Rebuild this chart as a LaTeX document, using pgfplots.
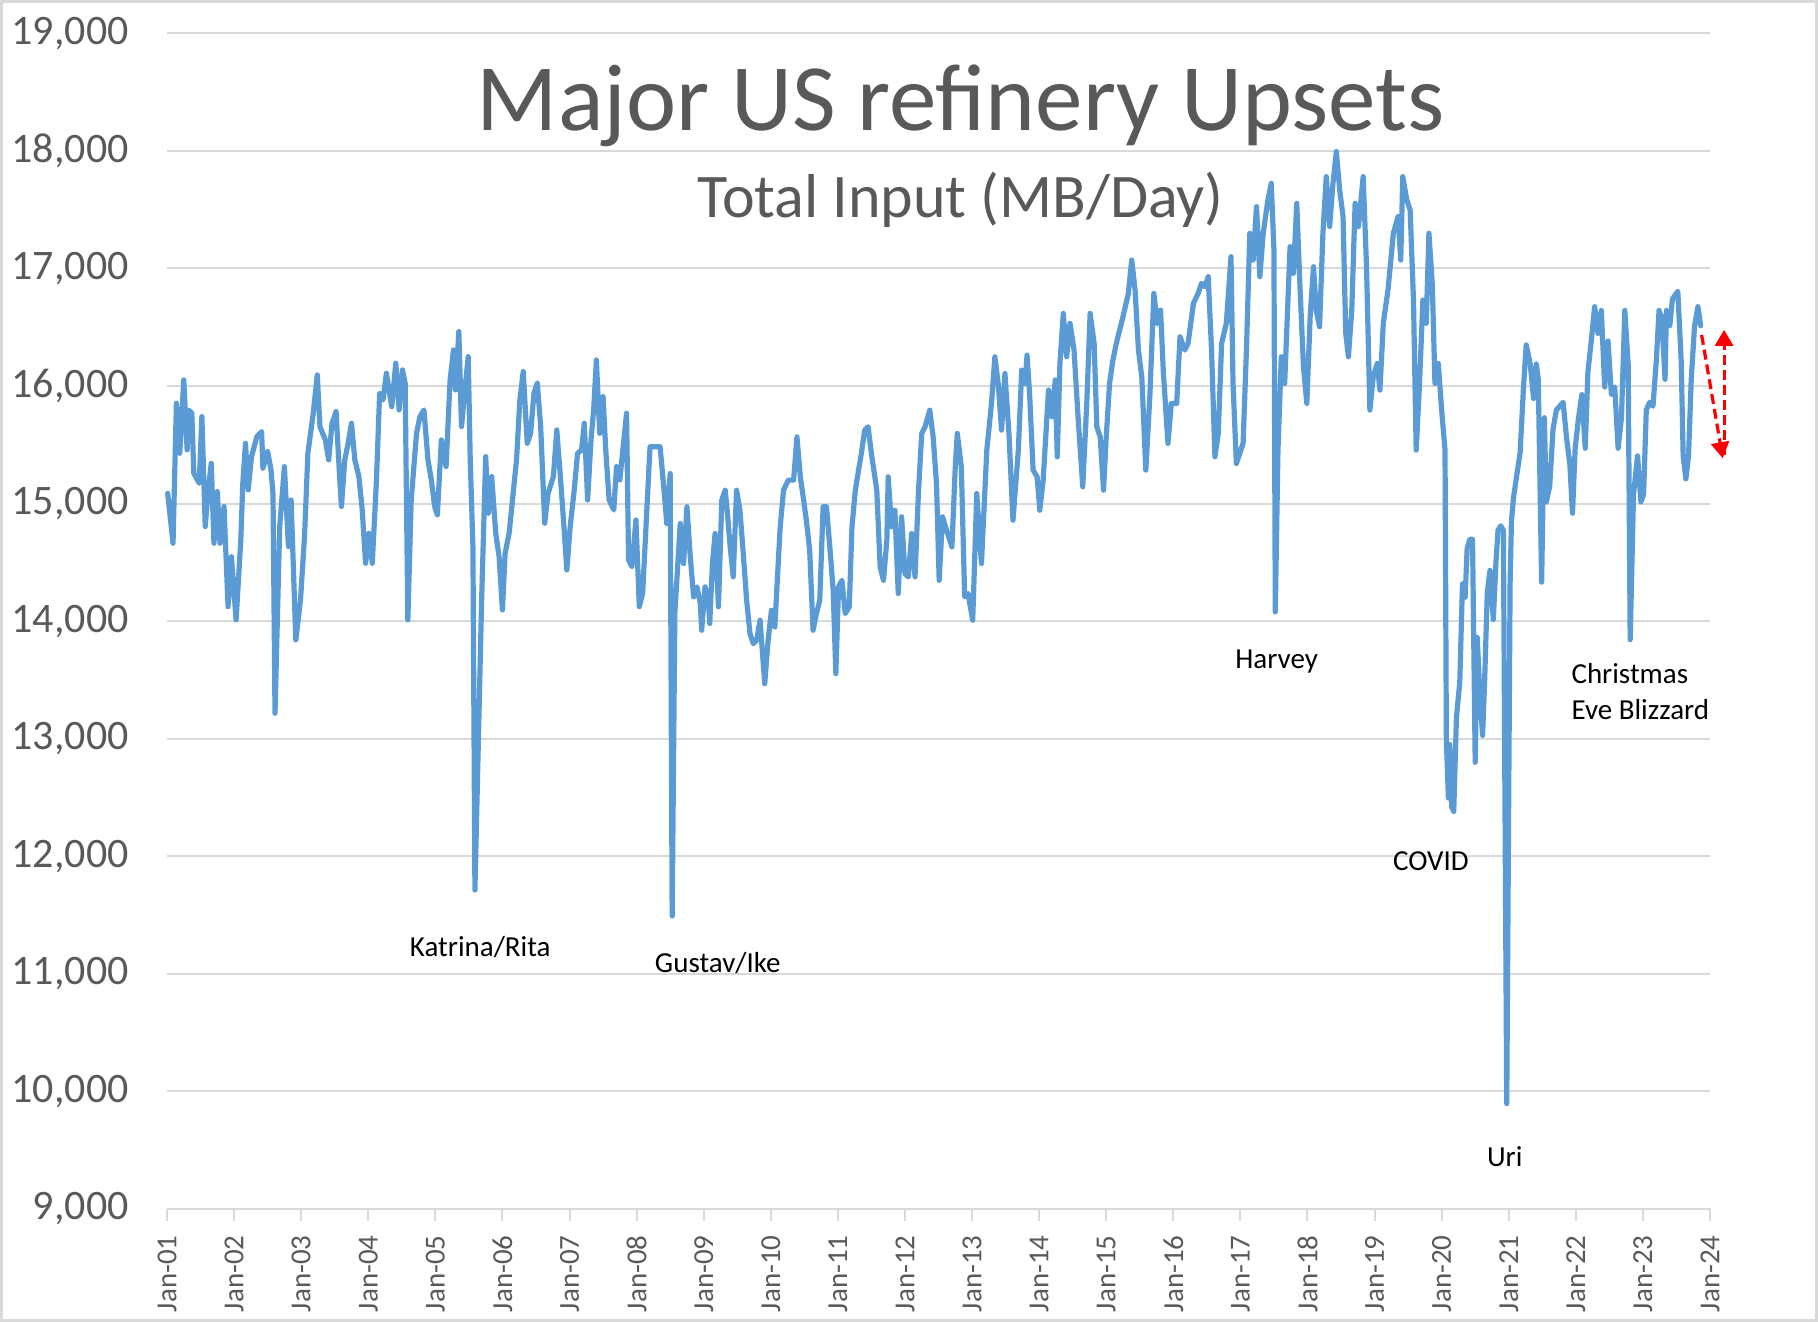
\documentclass[border=0pt]{standalone}
\usepackage{fontspec}
\setmainfont{Carlito}
\usepackage{pgfplots}
\pgfplotsset{compat=1.18}
\usetikzlibrary{arrows.meta}
\definecolor{lineblue}{HTML}{5B9BD5}
\definecolor{txtgray}{HTML}{595959}
\definecolor{gridgray}{HTML}{D9D9D9}
\begin{document}
\begin{tikzpicture}
\useasboundingbox (-83.5pt,-56.5pt) rectangle (825.5pt,604.5pt);
\draw[gridgray, line width=1.5pt] (-82.75pt,-55.75pt) rectangle (824.75pt,603.75pt);
\begin{axis}[
  at={(0,0)}, anchor=south west,
  scale only axis, width=771.5pt, height=587.9pt,
  xmin=2001, xmax=2024, ymin=9000, ymax=19000,
  axis x line*=bottom, axis y line*=left,
  x axis line style={draw=gridgray, line width=1.2pt, -},
  y axis line style={draw=none, -},
  xtick={2001,2002,2003,2004,2005,2006,2007,2008,2009,2010,2011,2012,2013,2014,2015,2016,2017,2018,2019,2020,2021,2022,2023,2024},
  xticklabels={Jan-01,Jan-02,Jan-03,Jan-04,Jan-05,Jan-06,Jan-07,Jan-08,Jan-09,Jan-10,Jan-11,Jan-12,Jan-13,Jan-14,Jan-15,Jan-16,Jan-17,Jan-18,Jan-19,Jan-20,Jan-21,Jan-22,Jan-23,Jan-24},
  ytick={9000,10000,11000,12000,13000,14000,15000,16000,17000,18000,19000},
  scaled y ticks=false,
  ymajorgrids, major grid style={draw=gridgray, line width=1pt},
  tick align=outside, major tick length=6pt,
  xtick style={draw=gridgray, line width=1pt},
  ytick style={draw=none},
  yticklabel style={font=\fontsize{21}{24}\selectfont, text=txtgray, anchor=east, inner sep=0pt, xshift=-13pt},
  xticklabel style={font=\fontsize{14.5}{16}\selectfont, text=txtgray, yshift=-7pt, rotate=90, anchor=east, inner sep=0pt},
  /pgf/number format/1000 sep={,},
  /pgf/number format/assume math mode=true,
  clip=false,
]
\addplot[lineblue, line width=2.6pt, line join=round, line cap=round] coordinates {
(2001.01,15087) (2001.09,14662) (2001.14,15853) (2001.19,15427) (2001.25,16051) (2001.30,15456) (2001.32,15796) (2001.37,15768) (2001.40,15257) (2001.48,15172) (2001.52,15739) (2001.57,14804) (2001.61,15087) (2001.66,15342) (2001.70,14662) (2001.75,15101) (2001.79,14662) (2001.85,14974) (2001.91,14123) (2001.96,14548)
(2002.03,14010) (2002.10,14690) (2002.13,15172) (2002.17,15512) (2002.21,15115) (2002.26,15399) (2002.34,15569) (2002.41,15612) (2002.43,15300) (2002.50,15442) (2002.55,15286) (2002.58,15087) (2002.61,13216) (2002.68,14804) (2002.75,15314) (2002.81,14634) (2002.85,15030) (2002.92,13840) (2002.99,14180)
(2003.05,14719) (2003.10,15427) (2003.18,15768) (2003.24,16094) (2003.28,15654) (2003.36,15541) (2003.41,15371) (2003.46,15682) (2003.52,15782) (2003.57,15257) (2003.60,14974) (2003.65,15371) (2003.70,15512) (2003.75,15682) (2003.80,15371) (2003.86,15229) (2003.91,14945) (2003.96,14492)
(2004.01,14747) (2004.06,14492) (2004.12,15172) (2004.17,15938) (2004.22,15881) (2004.27,16108) (2004.35,15824) (2004.41,16193) (2004.46,15796) (2004.51,16136) (2004.55,16023) (2004.59,14010) (2004.64,15030) (2004.72,15597) (2004.77,15739) (2004.83,15796) (2004.89,15371) (2004.94,15201) (2004.99,14974)
(2005.03,14903) (2005.09,15541) (2005.16,15314) (2005.22,16051) (2005.27,16306) (2005.30,15966) (2005.35,16462) (2005.39,15654) (2005.44,15966) (2005.49,16249) (2005.52,15371) (2005.56,14634) (2005.59,11713) (2005.69,14180) (2005.75,15399) (2005.79,14917) (2005.84,15229) (2005.90,14747) (2005.95,14548)
(2006.00,14095) (2006.04,14577) (2006.10,14747) (2006.16,15087) (2006.21,15371) (2006.26,15881) (2006.31,16122) (2006.37,15512) (2006.42,15597) (2006.47,15938) (2006.52,16023) (2006.57,15654) (2006.63,14832) (2006.68,15087) (2006.76,15229) (2006.81,15626) (2006.86,15257) (2006.91,14860) (2006.96,14435)
(2007.01,14804) (2007.07,15115) (2007.12,15427) (2007.18,15456) (2007.22,15682) (2007.27,15030) (2007.32,15541) (2007.36,15796) (2007.40,16221) (2007.45,15597) (2007.50,15909) (2007.54,15456) (2007.59,15030) (2007.66,14945) (2007.70,15314) (2007.75,15201) (2007.80,15484) (2007.85,15768) (2007.88,14520) (2007.93,14463) (2007.99,14860)
(2008.04,14123) (2008.09,14237) (2008.14,14804) (2008.20,15482) (2008.27,15482) (2008.35,15482) (2008.40,15170) (2008.45,14830) (2008.50,15255) (2008.53,11492) (2008.57,14064) (2008.65,14830) (2008.70,14489) (2008.75,14972) (2008.80,14546) (2008.85,14206) (2008.90,14291) (2008.95,14149) (2008.97,13922)
(2009.02,14291) (2009.07,14177) (2009.09,13979) (2009.13,14489) (2009.17,14745) (2009.22,14121) (2009.27,15028) (2009.32,15113) (2009.35,14943) (2009.39,14660) (2009.44,14376) (2009.49,15113) (2009.54,14943) (2009.59,14574) (2009.64,14177) (2009.69,13894) (2009.74,13808) (2009.79,13837) (2009.84,14007) (2009.91,13468) (2009.96,13837)
(2010.01,14092) (2010.06,13950) (2010.14,14801) (2010.19,15113) (2010.26,15199) (2010.34,15199) (2010.39,15567) (2010.44,15227) (2010.49,15028) (2010.53,14858) (2010.58,14603) (2010.63,13922) (2010.68,14064) (2010.73,14177) (2010.78,14972) (2010.83,14972) (2010.88,14631) (2010.93,14262) (2010.97,13553)
(2011.01,14291) (2011.06,14347) (2011.11,14064) (2011.17,14121) (2011.21,14801) (2011.26,15113) (2011.30,15255) (2011.35,15426) (2011.40,15624) (2011.45,15653) (2011.50,15426) (2011.58,15113) (2011.63,14461) (2011.68,14347) (2011.73,14688) (2011.75,15227) (2011.80,14801) (2011.85,14943) (2011.90,14234) (2011.95,14887)
(2012.00,14404) (2012.05,14376) (2012.10,14745) (2012.15,14376) (2012.20,15085) (2012.25,15596) (2012.30,15653) (2012.37,15794) (2012.42,15567) (2012.47,15170) (2012.51,14347) (2012.56,14887) (2012.62,14773) (2012.70,14631) (2012.75,15312) (2012.78,15596) (2012.84,15312) (2012.89,14206) (2012.94,14234)
(2013.01,14007) (2013.07,15085) (2013.14,14489) (2013.22,15454) (2013.29,15851) (2013.34,16248) (2013.39,16021) (2013.44,15624) (2013.49,16106) (2013.55,15596) (2013.61,14858) (2013.69,15454) (2013.74,16135) (2013.79,16021) (2013.82,16262) (2013.86,15908) (2013.91,15284) (2013.97,15227)
(2014.01,14943) (2014.06,15199) (2014.14,15965) (2014.19,15738) (2014.24,16050) (2014.27,15397) (2014.31,16191) (2014.36,16617) (2014.41,16248) (2014.46,16532) (2014.52,16305) (2014.58,15738) (2014.65,15142) (2014.71,15851) (2014.76,16617) (2014.82,16362) (2014.86,15652) (2014.91,15567) (2014.96,15113)
(2015.00,15567) (2015.05,16021) (2015.10,16220) (2015.15,16362) (2015.20,16475) (2015.25,16589) (2015.33,16787) (2015.38,17071) (2015.43,16816) (2015.48,16305) (2015.53,16078) (2015.59,15284) (2015.65,15908) (2015.71,16787) (2015.76,16532) (2015.81,16645) (2015.85,16135) (2015.92,15511) (2015.97,15851)
(2016.05,15851) (2016.10,16418) (2016.17,16305) (2016.22,16362) (2016.30,16702) (2016.37,16787) (2016.42,16872) (2016.47,16844) (2016.52,16929) (2016.57,16305) (2016.62,15397) (2016.67,15596) (2016.72,16362) (2016.79,16532) (2016.86,17099) (2016.89,16021) (2016.94,15340) (2016.99,15425)
(2017.04,15511) (2017.09,16305) (2017.14,17298) (2017.19,17071) (2017.24,17525) (2017.29,16929) (2017.34,17298) (2017.41,17582) (2017.46,17723) (2017.50,17156) (2017.52,14078) (2017.56,15454) (2017.61,16248) (2017.66,16021) (2017.74,17184) (2017.79,16957) (2017.84,17553) (2017.89,16816) (2017.94,16163) (2017.99,15851)
(2018.04,16589) (2018.09,17014) (2018.13,16645) (2018.18,16504) (2018.23,17298) (2018.28,17780) (2018.33,17355) (2018.38,17723) (2018.43,17993) (2018.48,17667) (2018.53,17440) (2018.57,16447) (2018.61,16248) (2018.66,16645) (2018.71,17553) (2018.76,17355) (2018.83,17780) (2018.88,17014) (2018.93,15794) (2018.98,16078)
(2019.04,16191) (2019.08,15965) (2019.13,16532) (2019.20,16816) (2019.28,17298) (2019.35,17440) (2019.39,17071) (2019.42,17780) (2019.48,17582) (2019.53,17496) (2019.58,16730) (2019.62,15454) (2019.67,16021) (2019.72,16730) (2019.77,16532) (2019.81,17298) (2019.86,16872) (2019.90,16021) (2019.95,16191)
(2020.00,15794) (2020.05,15455) (2020.07,12989) (2020.10,12495) (2020.12,12950) (2020.15,12419) (2020.18,12381) (2020.22,13178) (2020.27,13482) (2020.31,14317) (2020.35,14203) (2020.38,14620) (2020.42,14696) (2020.46,14696) (2020.50,12799) (2020.53,13861) (2020.57,13368) (2020.61,13027) (2020.64,13482) (2020.68,14241) (2020.72,14431) (2020.77,14013) (2020.81,14507) (2020.84,14772) (2020.88,14810) (2020.92,14772) (2020.97,9896)
(2021.02,14317) (2021.04,14848) (2021.07,15047) (2021.12,15242) (2021.17,15437) (2021.22,15991) (2021.26,16349) (2021.32,16186) (2021.37,15893) (2021.41,16186) (2021.44,16056) (2021.49,14331) (2021.53,15730) (2021.56,15014) (2021.61,15145) (2021.66,15633) (2021.71,15796) (2021.76,15828) (2021.81,15861) (2021.86,15568) (2021.91,15340) (2021.95,14917) (2021.99,15470)
(2022.04,15730) (2022.09,15926) (2022.14,15470) (2022.18,16121) (2022.23,16382) (2022.28,16674) (2022.33,16447) (2022.38,16642) (2022.43,15991) (2022.48,16382) (2022.53,15926) (2022.58,15991) (2022.63,15470) (2022.68,15730) (2022.73,16642) (2022.78,16186) (2022.81,13842) (2022.86,15079) (2022.92,15405) (2022.97,15014)
(2023.01,15079) (2023.05,15796) (2023.10,15861) (2023.15,15828) (2023.20,16219) (2023.24,16642) (2023.28,16577) (2023.33,16056) (2023.35,16642) (2023.40,16512) (2023.44,16740) (2023.48,16772) (2023.52,16805) (2023.57,16219) (2023.60,15405) (2023.64,15210) (2023.68,15405) (2023.72,16056) (2023.77,16512) (2023.82,16674) (2023.86,16512)
};
\draw[red, dash pattern=on 5pt off 2.5pt, line width=1.6pt, -{Triangle[width=9pt,length=8pt]}] (axis cs:2023.875,16434) -- (axis cs:2024.19,15385);
\draw[red, dash pattern=on 5pt off 2.5pt, line width=1.6pt, -{Triangle[width=9pt,length=8pt]}] (axis cs:2024.21,15415) -- (axis cs:2024.21,16477);
\begin{scope}[every node/.style={font=\fontsize{14.5}{16}\selectfont, text=black, inner sep=0pt}]
\node[anchor=center] at (axis cs:2005.67,11227) {Katrina/Rita};
\node[anchor=center] at (axis cs:2009.21,11088) {Gustav/Ike};
\node[anchor=center] at (axis cs:2017.54,13653) {Harvey};
\node[anchor=center] at (axis cs:2019.84,11957) {COVID};
\node[anchor=center] at (axis cs:2020.94,9442) {Uri};
\node[anchor=west] at (axis cs:2021.93,13554) {Christmas};
\node[anchor=west] at (axis cs:2021.93,13248) {Eve Blizzard};
\end{scope}
\end{axis}
\node[font=\fontsize{47.5}{50}\selectfont, text=txtgray, anchor=base, inner sep=0pt] at (396.8pt,539pt) {Major US refinery Upsets};
\node[font=\fontsize{31}{34}\selectfont, text=txtgray, anchor=base, inner sep=0pt] at (396.8pt,495.5pt) {Total Input (MB/Day)};
\end{tikzpicture}
\end{document}
